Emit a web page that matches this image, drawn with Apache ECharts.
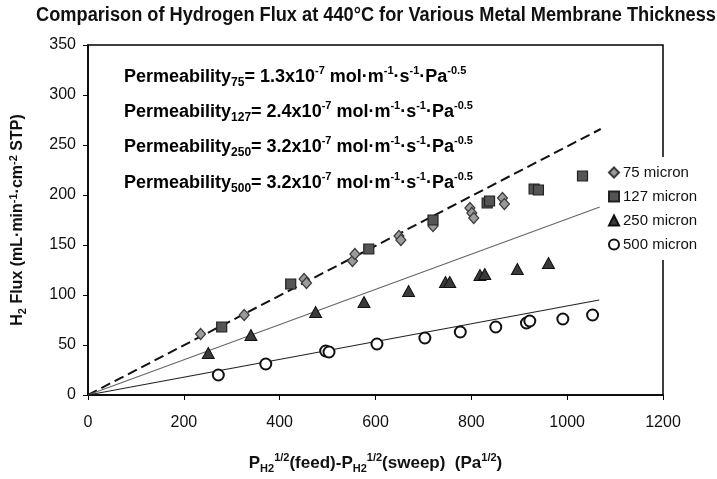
<!DOCTYPE html>
<html>
<head>
<meta charset="utf-8">
<script src="https://cdn.jsdelivr.net/npm/echarts@6/dist/echarts.min.js"></script>
<style>html,body{margin:0;padding:0;background:#fff}#c{width:717px;height:479px}</style>
</head>
<body>
<div id="c"></div>
<script>
// ---- data ----
const xTicks = [0, 200, 400, 600, 800, 1000, 1200];
const yTicks = [0, 50, 100, 150, 200, 250, 300, 350];
const names = ['75 micron', '127 micron', '250 micron', '500 micron'];
const d75 = [[235,61],[326,80],[451,116],[456,112],[552,134],[557,141],[649,159],[653,155],[720,169],[797,187],[801,182],[805,177],[865,197],[869,191]];
const d127 = [[279,68],[423,111],[586,146],[720,175],[833,192],[838,194],[931,206],[940,205],[1032,219]];
const d250 = [[251,42],[340,60],[475,83],[576,93],[669,104],[746,113],[755,113],[818,120],[828,121],[896,126],[961,132]];
const d500 = [[272,20],[371,31],[496,44],[503,43],[603,51],[703,57],[777,63],[851,68],[915,72],[922,74],[991,76],[1053,80]];
const fit75 = [[0,0],[1070,266]];
const fit250 = [[0,0],[1068,188]];
const fit500 = [[0,0],[1067,95]];
const permLabels = [
  ['75', '1.3'],
  ['127', '2.4'],
  ['250', '3.2'],
  ['500', '3.2']
];

const FF = "'Liberation Sans', Arial, sans-serif";
const chart = echarts.init(document.getElementById('c'), null, {renderer: 'canvas'});

const richAnn = {
  m: {fontFamily: FF, fontWeight: 'bold', fontSize: 18, lineHeight: 24, color: '#111'},
  sub: {fontFamily: FF, fontWeight: 'bold', fontSize: 12, lineHeight: 24, verticalAlign: 'bottom', color: '#111'},
  sup: {fontFamily: FF, fontWeight: 'bold', fontSize: 11, lineHeight: 22, verticalAlign: 'top', color: '#111'}
};
const annTops = [77, 112, 147, 183];
const graphics = permLabels.map((p, i) => ({
  type: 'text', x: 124, y: annTops[i], z: 10,
  style: {
    text: '{m|Permeability}{sub|' + p[0] + '}{m|= ' + p[1] + 'x10}{sup|-7}{m| mol·m}{sup|-1}{m|·s}{sup|-1}{m|·Pa}{sup|-0.5}',
    rich: richAnn, textVerticalAlign: 'middle', textAlign: 'left'
  }
}));
graphics.push({
  type: 'text', x: 376, y: 15, scaleX: 0.91, z: 10,
  style: {
    text: 'Comparison of Hydrogen Flux at 440°C for Various Metal Membrane Thickness',
    font: 'bold 20px ' + FF, fill: '#111', textAlign: 'center', textVerticalAlign: 'middle'
  }
});

const lineStyleBase = {type: 'line', symbol: 'none', silent: true, z: 1, animation: false};

chart.setOption({
  animation: false,
  backgroundColor: '#fff',
  grid: {left: 87, right: 54, top: 45, bottom: 73, show: true, borderColor: '#000', borderWidth: 1.5, backgroundColor: 'transparent'},
  xAxis: {
    type: 'value', min: 0, max: 1200, interval: 200,
    axisLine: {show: true, lineStyle: {color: '#000', width: 1.5}},
    axisTick: {show: true, length: 5, inside: false, lineStyle: {color: '#000'}},
    splitLine: {show: false},
    axisLabel: {fontFamily: FF, fontSize: 16, color: '#111', margin: 20,
      formatter: v => xTicks.includes(v) ? String(v) : ''},
    name: '{m|P}{sub|H2}{sup|1/2}{m|(feed)-P}{sub|H2}{sup|1/2}{m|(sweep)  (Pa}{sup|1/2}{m|)}',
    nameLocation: 'middle', nameGap: 57,
    nameTextStyle: {rich: {
      m: {fontFamily: FF, fontWeight: 'bold', fontSize: 17, lineHeight: 22, color: '#111'},
      sub: {fontFamily: FF, fontWeight: 'bold', fontSize: 11, lineHeight: 22, verticalAlign: 'bottom', color: '#111'},
      sup: {fontFamily: FF, fontWeight: 'bold', fontSize: 11, lineHeight: 20, verticalAlign: 'top', color: '#111'}
    }}
  },
  yAxis: {
    type: 'value', min: 0, max: 350, interval: 50,
    axisLine: {show: true, lineStyle: {color: '#000', width: 1.5}},
    axisTick: {show: true, length: 5, inside: false, lineStyle: {color: '#000'}},
    splitLine: {show: false},
    axisLabel: {fontFamily: FF, fontSize: 16, color: '#111', margin: 12,
      formatter: v => yTicks.includes(v) ? String(v) : ''},
    name: '{m|H}{sub|2}{m| Flux (mL·min}{sup|-1}{m|·cm}{sup|-2}{m| STP)}',
    nameLocation: 'middle', nameGap: 60, nameRotate: 90,
    nameTextStyle: {rich: {
      m: {fontFamily: FF, fontWeight: 'bold', fontSize: 16, lineHeight: 20, color: '#111'},
      sub: {fontFamily: FF, fontWeight: 'bold', fontSize: 11, lineHeight: 20, verticalAlign: 'bottom', color: '#111'},
      sup: {fontFamily: FF, fontWeight: 'bold', fontSize: 11, lineHeight: 18, verticalAlign: 'top', color: '#111'}
    }}
  },
  legend: {
    data: names, orient: 'vertical', left: 604, top: 157,
    backgroundColor: '#fff', padding: [8, 6, 8, 4],
    itemWidth: 10, itemHeight: 10, itemGap: 9,
    textStyle: {fontFamily: FF, fontSize: 15, color: '#111', padding: [0,0,0,-1]}
  },
  graphic: graphics,
  series: [
    Object.assign({}, lineStyleBase, {data: fit75, lineStyle: {color: '#111', width: 2, type: [10, 5]}}),
    Object.assign({}, lineStyleBase, {data: fit250, lineStyle: {color: '#666', width: 1.2}}),
    Object.assign({}, lineStyleBase, {data: fit500, lineStyle: {color: '#222', width: 1.2}}),
    {name: names[0], type: 'scatter', data: d75, symbol: 'diamond', symbolSize: [10, 11], z: 3,
      itemStyle: {color: '#9b9b9b', borderColor: '#3a3a3a', borderWidth: 1.2, opacity: 1}},
    {name: names[1], type: 'scatter', data: d127, symbol: 'rect', symbolSize: 10, z: 3,
      itemStyle: {color: '#555', borderColor: '#222', borderWidth: 1.2, opacity: 1}},
    {name: names[2], type: 'scatter', data: d250, symbol: 'triangle', symbolSize: [12, 11], z: 3,
      itemStyle: {color: '#3a3a3a', borderColor: '#111', borderWidth: 1, opacity: 1}},
    {name: names[3], type: 'scatter', data: d500, symbol: 'circle', symbolSize: 11, z: 3,
      itemStyle: {color: '#fff', borderColor: '#111', borderWidth: 2, opacity: 1}}
  ]
});
</script>
</body>
</html>
